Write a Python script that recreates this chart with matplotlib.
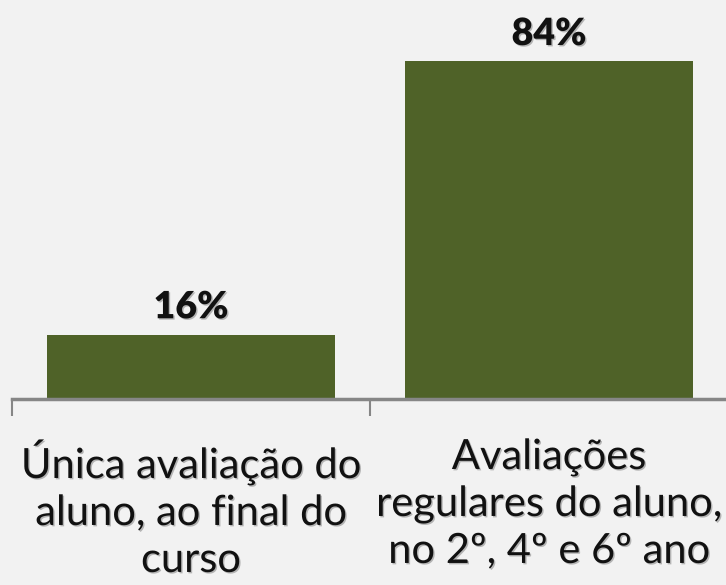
import matplotlib
matplotlib.use("Agg")
import matplotlib.pyplot as plt
import matplotlib.patheffects as pe

categories = ["Única avaliação do\naluno, ao final do\ncurso",
              "Avaliações\nregulares do aluno,\nno 2º, 4º e 6º ano"]
values = [16, 84]
value_labels = ["16%", "84%"]

bg = "#f2f2f2"
fig = plt.figure(figsize=(7.26, 5.85), dpi=100, facecolor=bg)
ax = fig.add_axes([12/726, 1-399/585, 716/726, 399/585])
ax.set_facecolor(bg)
x = list(range(len(values)))
ax.bar(x, values, width=0.805, color="#4f6228", zorder=2)
ax.set_xlim(-0.5, 1.5)
ax.set_ylim(0, 99.3)
for s in ["top", "right", "left"]:
    ax.spines[s].set_visible(False)
ax.spines["bottom"].set_color("#868686")
ax.spines["bottom"].set_linewidth(2.5)
ax.set_yticks([])
ax.set_xticks([-0.5, 0.5, 1.5], minor=False)
ax.set_xticklabels([])
ax.tick_params(axis="x", length=12, width=1.5, color="#868686", direction="out")
shadow = [pe.SimplePatchShadow(offset=(1, -1), shadow_rgbFace="#777777", alpha=0.5), pe.Normal()]
for xi, v, lab in zip(x, values, value_labels):
    ax.text(xi, v + 2.6, lab, ha="center", va="bottom", fontsize=27,
            fontweight="heavy", family="Lato", color="#111111", path_effects=shadow)
for xi, c in zip(x, categories):
    ax.text(xi, -9.7, c, ha="center", va="top", fontsize=30, family="Lato",
            color="#111111", linespacing=1.29, transform=ax.transData, clip_on=False,
            path_effects=shadow)
fig.savefig("out.png", dpi=100, facecolor=bg)
